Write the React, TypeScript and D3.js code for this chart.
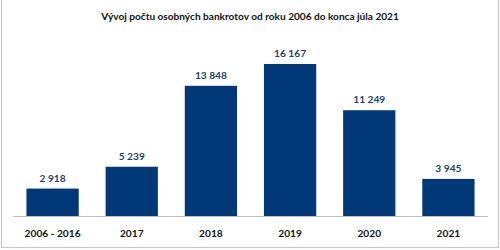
import React from "react";
import * as d3 from "d3";

const categories = ["2006 - 2016", "2017", "2018", "2019", "2020", "2021"];
const values = [2918, 5239, 13848, 16167, 11249, 3945];
const valueLabels = ["2 918", "5 239", "13 848", "16 167", "11 249", "3 945"];
const title = "Vývoj počtu osobných bankrotov od roku 2006 do konca júla 2021";

export default function App() {
  const W = 500, H = 250;
  const x = d3.scaleBand<string>().domain(categories).range([13, 488]).paddingInner(0.34).paddingOuter(0.17);
  const y = d3.scaleLinear().domain([0, 16167]).range([216, 64]);
  const font = "Lato, 'Open Sans', sans-serif";
  return (
    <svg width={W} height={H} style={{ position: "absolute", left: 0, top: 0, background: "#fff" }}>
      <rect x={1.5} y={-1} width={497} height={248.5} fill="#fff" stroke="#c8c8c8" strokeWidth={1.2} />
      <text x={250} y={19.5} textAnchor="middle" fontFamily={font} fontWeight={700} fontSize={10.1} fill="#111">{title}</text>
      {categories.map((c, i) => (
        <g key={c}>
          <rect x={x(c)} y={y(values[i])} width={x.bandwidth()} height={216 - y(values[i])} fill="#003878" />
          <text x={(x(c) as number) + x.bandwidth() / 2} y={y(values[i]) - 7} textAnchor="middle" fontFamily={font} fontWeight={700} fontSize={10.2} fill="#1f3f6a">{valueLabels[i]}</text>
          <text x={(x(c) as number) + x.bandwidth() / 2} y={237} textAnchor="middle" fontFamily={font} fontWeight={700} fontSize={10.2} fill="#111">{c}</text>
        </g>
      ))}
      <line x1={13} x2={488} y1={216.5} y2={216.5} stroke="#bfbfbf" strokeWidth={1} />
    </svg>
  );
}
